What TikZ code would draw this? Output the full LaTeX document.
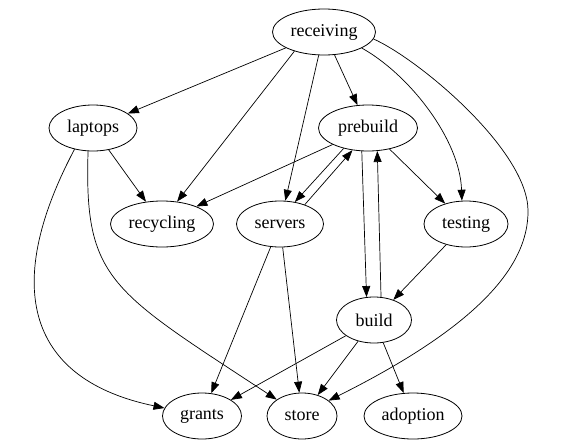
\documentclass[tikz,border=0pt]{standalone}
\usepackage{fontspec}
\setmainfont{Liberation Serif}
\usetikzlibrary{arrows.meta,shapes.geometric}
\begin{document}
\begin{tikzpicture}[x=1pt,y=-1pt,
  gnode/.style={draw, ellipse, line width=0.8pt, inner sep=0pt, minimum height=46pt,
    font=\fontsize{18}{20}\selectfont},
  edge/.style={draw, line width=0.7pt, -{Triangle[length=11pt,width=8pt]}}]
\useasboundingbox (0,0) rectangle (567,447);
\node[gnode, minimum width=103pt] (receiving) at (324,32) {receiving};
\node[gnode, minimum width=88pt] (laptops) at (93,128) {laptops};
\node[gnode, minimum width=99pt] (prebuild) at (368,128) {prebuild};
\node[gnode, minimum width=103pt] (recycling) at (162,224) {recycling};
\node[gnode, minimum width=87pt] (servers) at (280,224) {servers};
\node[gnode, minimum width=84pt] (testing) at (466,224) {testing};
\node[gnode, minimum width=75pt] (build) at (374,320) {build};
\node[gnode, minimum width=79pt] (grants) at (202,416) {grants};
\node[gnode, minimum width=70pt] (store) at (302,416) {store};
\node[gnode, minimum width=98pt] (adoption) at (413,416) {adoption};
\coordinate (rsmid) at (528,210);

\draw[edge] (receiving) -- (laptops);
\draw[edge] (receiving.213) -- (recycling.56);
\draw[edge] (receiving) -- (servers);
\draw[edge] (receiving) -- (prebuild);
\draw[edge] (receiving.-23) .. controls (410,75) and (460,140) .. (testing.100);
\draw[edge] (receiving.-8) .. controls (420,60) and (527,150) .. (rsmid)
  .. controls (529,270) and (470,330) .. (store.30);
\draw[edge] (laptops) -- (recycling);
\draw[edge] (laptops.229) .. controls (0,290) and (30,380) .. (grants.168);
\draw[edge] (laptops.258) .. controls (84,280) and (110,290) .. (store.147);
\draw[edge] (prebuild.205) -- (recycling.27);
\draw[edge] (prebuild.220) -- (servers.56);
\draw[edge] (servers.38) -- (prebuild.235);
\draw[edge] (prebuild) -- (testing);
\draw[edge] (prebuild.255) -- (build.108);
\draw[edge] (build.73) -- (prebuild.-68);
\draw[edge] (testing) -- (build);
\draw[edge] (servers) -- (grants);
\draw[edge] (servers) -- (store);
\draw[edge] (build) -- (grants);
\draw[edge] (build) -- (store);
\draw[edge] (build) -- (adoption);
\end{tikzpicture}
\end{document}
